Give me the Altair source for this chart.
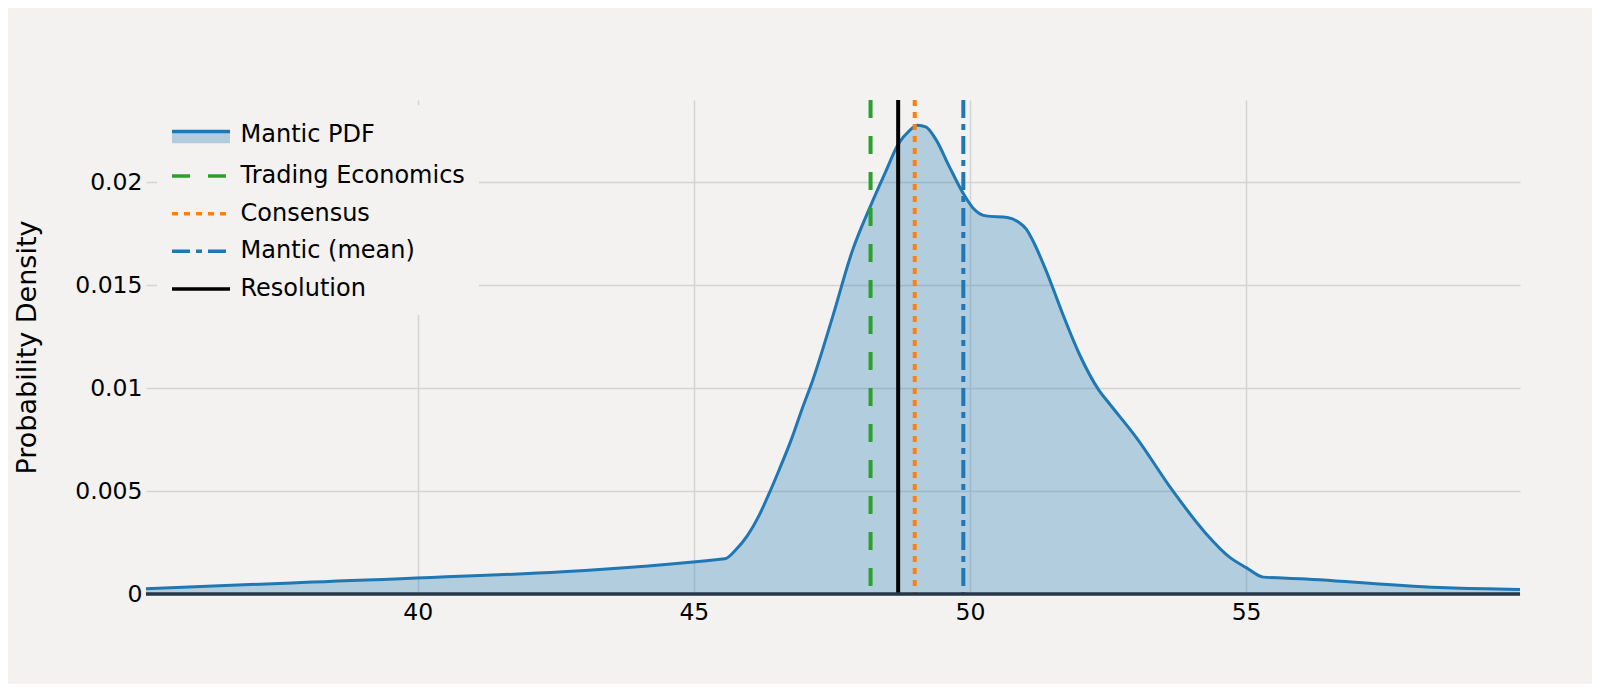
import altair as alt
import pandas as pd

# ---- data ----
pdf_x = [35.08, 37.72, 45.56, 45.76, 45.97, 46.18, 46.36, 46.54, 46.78, 46.96, 47.15, 47.51,
         47.87, 48.20, 48.48, 48.70, 48.90, 49.05, 49.20, 49.38, 49.62, 49.87, 50.05, 50.29,
         50.68, 50.89, 51.02, 51.14, 51.38, 51.68, 51.98, 52.34, 52.53, 53.01, 53.67, 54.28,
         54.70, 55.01, 55.31, 55.98, 58.64, 59.96]
pdf_y = [0.00025, 0.00054, 0.00171, 0.00215, 0.00284, 0.00381, 0.00486, 0.00600, 0.00761, 0.00899,
         0.01036, 0.01344, 0.01667, 0.01886, 0.02056, 0.02185, 0.02250, 0.02277, 0.02269, 0.02210,
         0.02080, 0.01950, 0.01877, 0.01837, 0.01829, 0.01805, 0.01773, 0.01716, 0.01570, 0.01360,
         0.01166, 0.00988, 0.00923, 0.00761, 0.00502, 0.00292, 0.00179, 0.00127, 0.00082, 0.00074,
         0.00030, 0.00022]

series_names = ["Mantic PDF", "Trading Economics", "Consensus", "Mantic (mean)", "Resolution"]
series_colors = ["#1f77b4", "#2ca02c", "#ff7f0e", "#1f77b4", "#000000"]
series_fills = ["#b3ccdd", "transparent", "transparent", "transparent", "transparent"]
series_dashes = [[58, 82], [18, 18], [6, 6], [18, 6, 6, 6], [1, 0]]
BAND = "M-2,-0.2H2V0.6H-2Z"
STROKE = "M-2,0H2"
series_shapes = [BAND, STROKE, STROKE, STROKE, STROKE]

marker_names = ["Trading Economics", "Consensus", "Mantic (mean)", "Resolution"]
marker_values = [48.2, 49.0, 49.88, 48.7]

x_ticks = [40, 45, 50, 55]
y_ticks = [0, 0.005, 0.01, 0.015, 0.02]

BG = "#f3f2f1"
FONT = "DejaVu Sans"

pdf_df = pd.DataFrame({"x": pdf_x, "y": pdf_y, "series": "Mantic PDF"})
marker_df = pd.DataFrame({"x": marker_values, "series": marker_names})
# legend carrier: placed outside the x domain and clipped away
legend_df = pd.DataFrame({"series": series_names, "x": [20.0] * len(series_names)})
zero_df = pd.DataFrame({"y": [0]})

x_scale = alt.Scale(domain=[35.08, 59.96], nice=False, zero=False)
y_scale = alt.Scale(domain=[0, 0.024], nice=False)
color_scale = alt.Scale(domain=series_names, range=series_colors)
fill_scale = alt.Scale(domain=series_names, range=series_fills)
dash_scale = alt.Scale(domain=series_names, range=series_dashes)
shape_scale = alt.Scale(domain=series_names, range=series_shapes)

x_axis = alt.Axis(values=x_ticks, title=None, grid=True, domain=False, ticks=False,
                  labelFontSize=23.5, labelFont=FONT, labelColor="#000", labelPadding=6,
                  gridColor="#d4d4d4", gridWidth=1.5)
y_axis = alt.Axis(values=y_ticks, format="~g", title="Probability Density", grid=True,
                  domain=False, ticks=False, labelFontSize=23.5, labelFont=FONT,
                  labelColor="#000", labelPadding=4, titleFontSize=27, titleFont=FONT,
                  titleFontWeight="normal", titleColor="#000", titlePadding=33,
                  gridColor="#d4d4d4", gridWidth=1.5)

legend = alt.Legend(
    title=None, orient="none", legendX=11, legendY=5,
    symbolSize=841, symbolStrokeWidth=3.5, symbolOffset=14.5, symbolOpacity=1,
    labelFontSize=24, labelFont=FONT, labelColor="#000", labelOffset=23, labelLimit=500,
    padding=13, rowPadding=8.6, fillColor=BG, strokeColor=BG,
)

area = alt.Chart(pdf_df).mark_area(color="#1f77b4", opacity=0.3, interpolate="monotone").encode(
    x=alt.X("x:Q", scale=x_scale, axis=x_axis),
    y=alt.Y("y:Q", scale=y_scale, axis=y_axis),
)

line = alt.Chart(pdf_df).mark_line(strokeWidth=3, interpolate="monotone").encode(
    x=alt.X("x:Q", scale=x_scale),
    y=alt.Y("y:Q", scale=y_scale),
    color=alt.Color("series:N", scale=color_scale, legend=legend),
)

rules = alt.Chart(marker_df).mark_rule(strokeWidth=4).encode(
    x=alt.X("x:Q", scale=x_scale),
    color=alt.Color("series:N", scale=color_scale, legend=legend),
    strokeDash=alt.StrokeDash("series:N", scale=dash_scale, legend=legend),
)

legend_layer = alt.Chart(legend_df).mark_point(
    size=841, strokeWidth=3.5, opacity=1, clip=True
).encode(
    x=alt.X("x:Q", scale=x_scale),
    color=alt.Color("series:N", scale=color_scale, legend=legend),
    fill=alt.Fill("series:N", scale=fill_scale, legend=legend),
    shape=alt.Shape("series:N", scale=shape_scale, legend=legend),
    strokeDash=alt.StrokeDash("series:N", scale=dash_scale, legend=legend),
)

zero = alt.Chart(zero_df).mark_rule(color="#26374a", strokeWidth=3.5).encode(
    y=alt.Y("y:Q", scale=y_scale),
)

chart = alt.layer(area, line, rules, zero, legend_layer).properties(
    width=1374, height=494,
    padding={"left": 138, "top": 92, "right": 72, "bottom": 90},
    autosize=alt.AutoSizeParams(type="none"),
    background=BG,
).configure_view(stroke=None)

chart.save("out.html", embed_options={"renderer": "svg", "actions": False})
